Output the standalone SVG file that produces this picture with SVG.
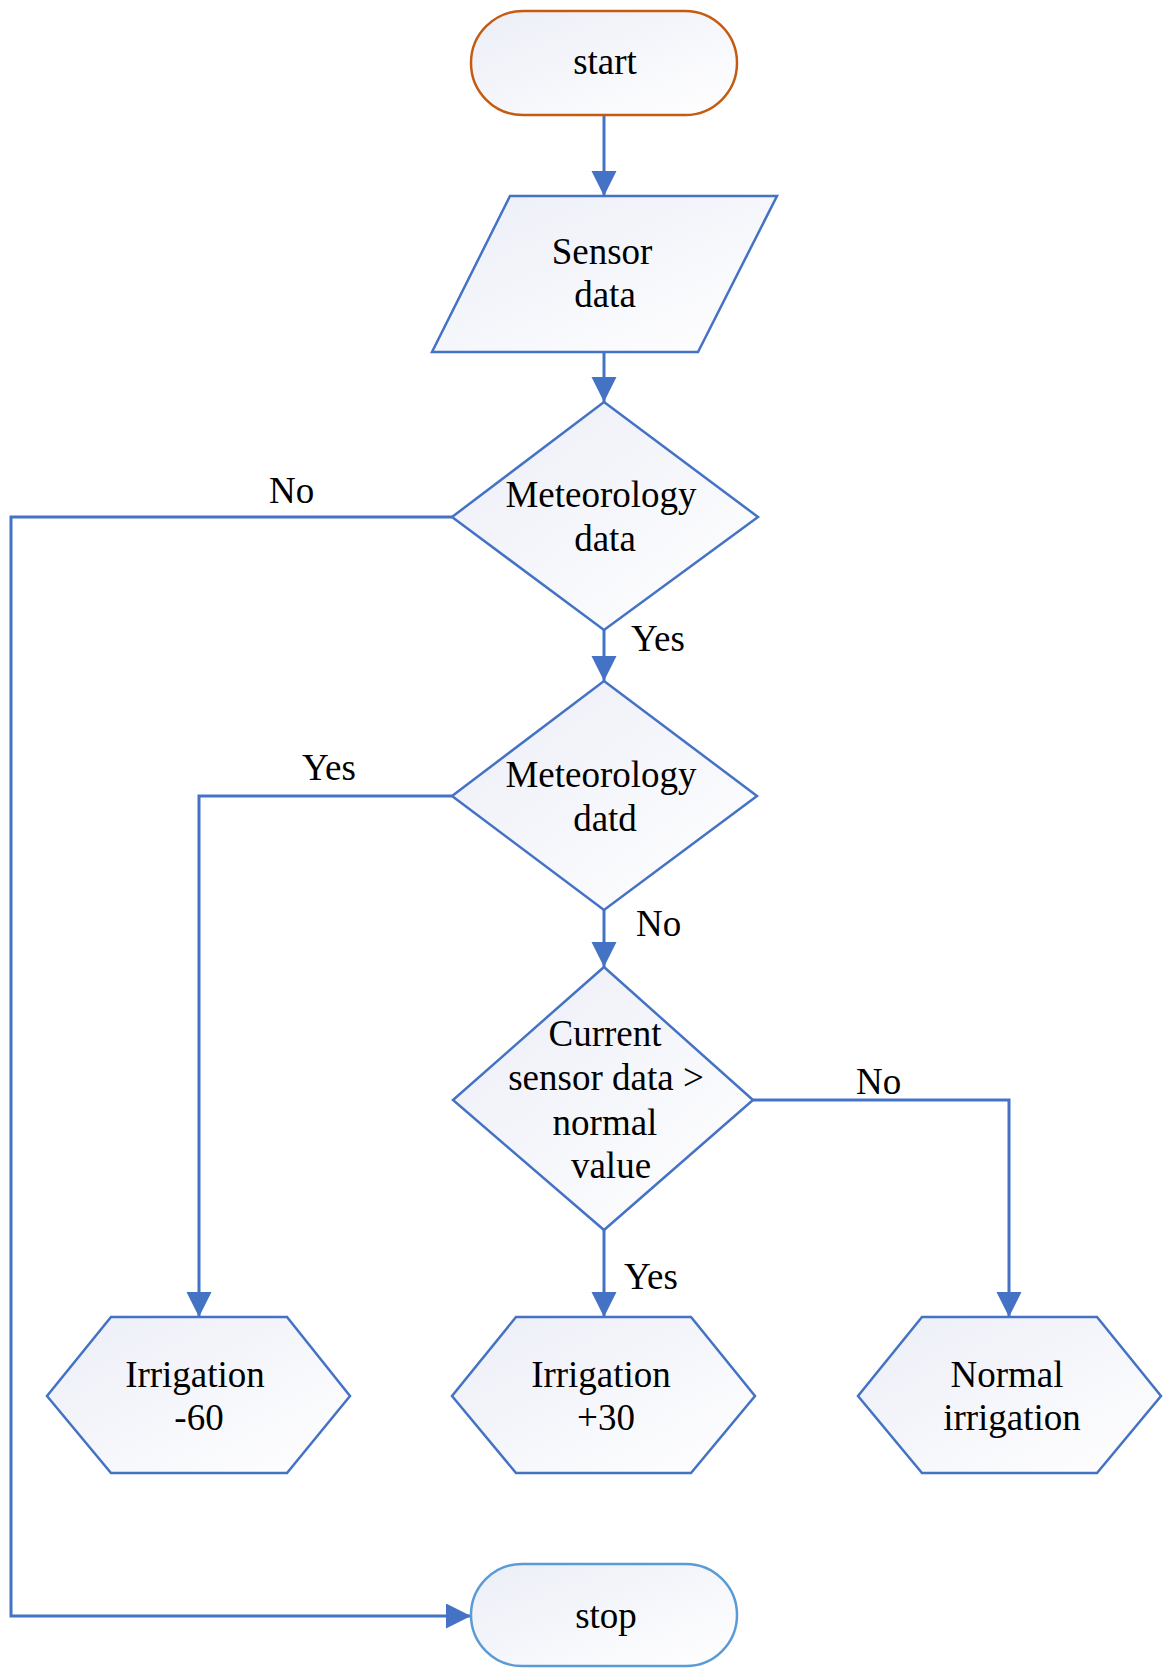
<svg xmlns="http://www.w3.org/2000/svg" width="1165" height="1668" viewBox="0 0 1165 1668">
<style>
text{font-family:"Liberation Serif","Times New Roman",serif;font-size:37px;fill:#000;text-anchor:middle}
.lbl{text-anchor:start}
.node{fill:url(#g);stroke:#4472C4;stroke-width:2.5}
.conn{fill:none;stroke:#4472C4;stroke-width:3;marker-end:url(#arr)}
.conn2{fill:none;stroke:#4472C4;stroke-width:3}
</style>
<defs>
<linearGradient id="g" x1="0" y1="0" x2="1" y2="1">
<stop offset="0" stop-color="#ECEEF7"/>
<stop offset="1" stop-color="#FFFFFF"/>
</linearGradient>
<marker id="arr" markerUnits="userSpaceOnUse" markerWidth="26" markerHeight="26" refX="25" refY="12.5" orient="auto">
<path d="M0,0 L25,12.5 L0,25 z" fill="#4472C4"/>
</marker>
</defs>
<g id="connectors">
<line class="conn" x1="604" y1="115" x2="604" y2="196"/>
<line class="conn" x1="604" y1="352" x2="604" y2="402"/>
<line class="conn" x1="604" y1="630" x2="604" y2="681"/>
<line class="conn" x1="604" y1="910" x2="604" y2="967"/>
<line class="conn" x1="604" y1="1230" x2="604" y2="1317"/>
<polyline class="conn" points="452,517 11,517 11,1616 471,1616"/>
<polyline class="conn" points="452,796 199,796 199,1317"/>
<polyline class="conn" points="753,1100 1009,1100 1009,1317"/>
<text class="lbl" x="269" y="503">No</text>
<text class="lbl" x="631" y="651">Yes</text>
<text class="lbl" x="302" y="780">Yes</text>
<text class="lbl" x="636" y="936">No</text>
<text class="lbl" x="856" y="1094">No</text>
<text class="lbl" x="624" y="1289">Yes</text>
</g>
<g id="start">
<rect x="471" y="11" width="266" height="104" rx="52" ry="52" fill="url(#g)" stroke="#C55A11" stroke-width="2.5"/>
<text x="605" y="74">start</text>
</g>
<g id="sensor">
<polygon class="node" points="510,196 777,196 698,352 432,352"/>
<text x="602" y="264">Sensor</text>
<text x="605" y="307">data</text>
</g>
<g id="meteo1">
<polygon class="node" points="604,402 758,517 604,630 452,517"/>
<text x="601" y="507">Meteorology</text>
<text x="605" y="551">data</text>
</g>
<g id="meteo2">
<polygon class="node" points="604,681 757,796 604,910 452,796"/>
<text x="601" y="787">Meteorology</text>
<text x="605" y="831">datd</text>
</g>
<g id="current">
<polygon class="node" points="604,967 753,1100 604,1230 453,1100"/>
<text x="605" y="1046">Current</text>
<text x="606" y="1090">sensor data &gt;</text>
<text x="605" y="1135">normal</text>
<text x="611" y="1178">value</text>
</g>
<g id="irr60">
<polygon class="node" points="111,1317 287,1317 350,1396 287,1473 111,1473 47,1396"/>
<text x="195" y="1387">Irrigation</text>
<text x="199" y="1430">-60</text>
</g>
<g id="irr30">
<polygon class="node" points="516,1317 691,1317 755,1396 691,1473 516,1473 452,1396"/>
<text x="601" y="1387">Irrigation</text>
<text x="606" y="1430">+30</text>
</g>
<g id="normal">
<polygon class="node" points="922,1317 1097,1317 1161,1396 1097,1473 922,1473 858,1396"/>
<text x="1007" y="1387">Normal</text>
<text x="1012" y="1430">irrigation</text>
</g>
<g id="stop">
<rect x="471" y="1564" width="266" height="102" rx="51" ry="51" fill="url(#g)" stroke="#5B9BD5" stroke-width="2.5"/>
<text x="606" y="1628">stop</text>
</g>
</svg>
